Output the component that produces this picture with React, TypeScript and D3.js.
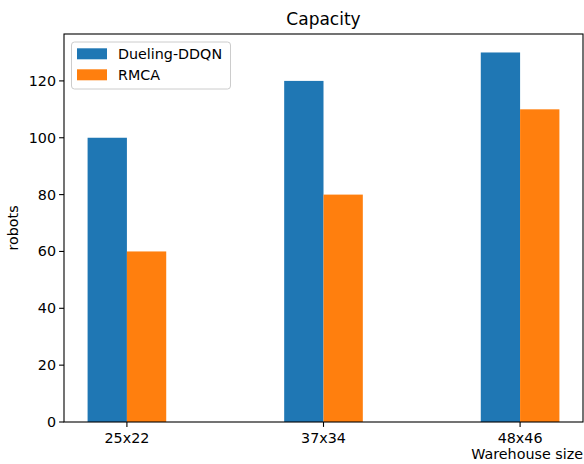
import React from 'react'
import * as d3 from 'd3'

const sizes = ['25x22', '37x34', '48x46']
const duelingDdqn = [100, 120, 130]
const rmca = [60, 80, 110]
const seriesNames = ['Dueling-DDQN', 'RMCA']
const yTicks = [0, 20, 40, 60, 80, 100, 120]

const W = 584
const H = 464
const margin = { top: 34, right: 1, bottom: 42, left: 64 }
const font = 'DejaVu Sans, sans-serif'
const fs = 14.3
const colors = ['#1f77b4', '#ff7f0e']

const App = () => {
  const width = W - margin.left - margin.right
  const height = H - margin.top - margin.bottom
  const barW = 0.2

  // matplotlib style: numeric x positions with 5% margins
  const x = d3.scaleLinear().domain([-0.32, 2.32]).range([0, width])
  const y = d3.scaleLinear().domain([0, 136.5]).range([height, 0])

  const series = [duelingDdqn, rmca]

  return (
    <svg width={W} height={H} style={{ position: 'absolute', left: 0, top: 0 }} fontFamily={font}>
      <rect width={W} height={H} fill="white" />
      <text x={margin.left + width / 2} y={25} textAnchor="middle" fontSize={17}>
        Capacity
      </text>
      <g transform={`translate(${margin.left},${margin.top})`}>
        {series.map((vals, s) =>
          vals.map((v, i) => {
            const x0 = s === 0 ? i - barW : i
            return (
              <rect
                key={`${s}-${i}`}
                x={x(x0)}
                y={y(v)}
                width={x(x0 + barW) - x(x0)}
                height={y(0) - y(v)}
                fill={colors[s]}
              />
            )
          })
        )}

        {/* frame */}
        <rect x={0} y={0} width={width} height={height} fill="none" stroke="black" strokeWidth={1.1} />

        {/* y axis */}
        {yTicks.map((t) => (
          <g key={t} transform={`translate(0,${y(t)})`}>
            <line x1={-4.9} x2={0} stroke="black" strokeWidth={1.1} />
            <text x={-8} dy="0.35em" textAnchor="end" fontSize={fs}>
              {t}
            </text>
          </g>
        ))}

        {/* x axis */}
        {sizes.map((c, i) => (
          <g key={c} transform={`translate(${x(i)},${height})`}>
            <line y1={0} y2={4.9} stroke="black" strokeWidth={1.1} />
            <text y={20.5} textAnchor="middle" fontSize={fs}>
              {c}
            </text>
          </g>
        ))}

        {/* legend */}
        <g transform="translate(7.5,8)">
          <rect width={159} height={47} rx={3} fill="white" fillOpacity={0.8} stroke="#cccccc" strokeWidth={1} />
          {seriesNames.map((n, k) => (
            <g key={n} transform={`translate(0,${11.8 + k * 21})`}>
              <rect x={5.5} y={-5.5} width={30} height={11} fill={colors[k]} />
              <text x={46.5} dy="0.35em" fontSize={fs}>
                {n}
              </text>
            </g>
          ))}
        </g>
      </g>
      <text x={W - 1} y={459} textAnchor="end" fontSize={fs}>
        Warehouse size
      </text>
      <text transform={`translate(17.5,${margin.top + height / 2}) rotate(-90)`} textAnchor="middle" fontSize={fs}>
        robots
      </text>
    </svg>
  )
}

export default App
